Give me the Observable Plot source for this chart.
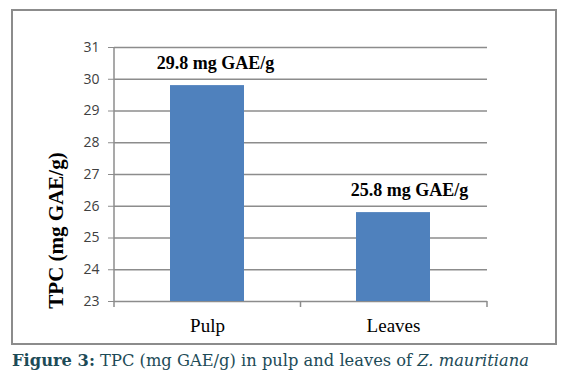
<!DOCTYPE html>
<html>
<head>
<meta charset="utf-8">
<script src="https://cdn.jsdelivr.net/npm/d3@7"></script>
<script src="https://cdn.jsdelivr.net/npm/@observablehq/plot@0.6"></script>
<style>
  html, body { margin: 0; padding: 0; background: #fff; }
  #wrap { position: relative; width: 572px; height: 377px; overflow: hidden; }
  #box { position: absolute; left: 11px; top: 9px; width: 542px; height: 332px; border: 2px solid #8c8c8c; }
  #chart { position: absolute; left: 0; top: 0; }
  #caption { position: absolute; left: 12px; top: 351px; font-family: "DejaVu Serif", serif; font-size: 16.3px; color: #1d4b57; white-space: nowrap; }
  #caption b { font-weight: bold; }
</style>
</head>
<body>
<div id="wrap">
  <div id="box"></div>
  <div id="chart"></div>
  <div id="caption"><b>Figure 3:</b> TPC (mg GAE/g) in pulp and leaves of <i>Z. mauritiana</i></div>
</div>
<script>
const categories = ["Pulp", "Leaves"];
const values = [29.8, 25.8];
const valueLabels = ["29.8 mg GAE/g", "25.8 mg GAE/g"];
const yTicks = [23, 24, 25, 26, 27, 28, 29, 30, 31];
const yTitle = "TPC (mg GAE/g)";

const data = categories.map((c, i) => ({cat: c, value: values[i], label: valueLabels[i]}));
const gray = "#8c8c8c";

function boundaryTicks(index, scales, values, dims) {
  const {width, height, marginLeft, marginRight, marginTop, marginBottom} = dims;
  const g = d3.create("svg:g").attr("stroke", gray).attr("stroke-width", 1.5);
  const n = categories.length;
  const w = (width - marginLeft - marginRight) / n;
  const yb = height - marginBottom;
  g.append("line").attr("x1", marginLeft).attr("x2", marginLeft).attr("y1", marginTop).attr("y2", yb);
  for (let i = 0; i <= n; i++) {
    const x = marginLeft + i * w;
    g.append("line").attr("x1", x).attr("x2", x).attr("y1", yb).attr("y2", yb + 6);
  }
  return g.node();
}

const chart = Plot.plot({
  width: 572,
  height: 345,
  marginLeft: 114,
  marginRight: 85,
  marginTop: 47,
  marginBottom: 44,
  x: {domain: categories, paddingInner: 0.6, paddingOuter: 0.3, label: null},
  y: {domain: [yTicks[0], yTicks[yTicks.length - 1]], label: null},
  style: {background: "transparent"},
  marks: [
    Plot.gridY(yTicks, {stroke: gray, strokeOpacity: 1, strokeWidth: 1.5}),
    Plot.barY(data, {x: "cat", y1: yTicks[0], y2: "value", fill: "#4f81bd"}),
    Plot.axisY(yTicks, {tickSize: 6, tickPadding: 9, stroke: gray, fill: "#404040", fontSize: 14, fontFamily: "Open Sans, sans-serif", tickFormat: d => String(d)}),
    Plot.axisX({tickSize: 0, tickPadding: 17, fill: "#000", fontSize: 19, fontFamily: "Liberation Serif, serif"}),
    boundaryTicks,
    Plot.text(data.filter(d => d.cat === "Pulp"), {x: "cat", y: "value", text: "label", dx: 8, dy: -22, fontSize: 18, fontWeight: "bold", fontFamily: "Liberation Serif, serif", fill: "#000"}),
    Plot.text(data.filter(d => d.cat === "Leaves"), {x: "cat", y: "value", text: "label", dx: 16, dy: -22, fontSize: 18, fontWeight: "bold", fontFamily: "Liberation Serif, serif", fill: "#000"}),
    Plot.text([yTitle], {frameAnchor: "left", textAnchor: "middle", rotate: -90, text: d => d, dx: -58, dy: 56, fontSize: 21, fontWeight: "bold", fontFamily: "Liberation Serif, serif", fill: "#000"})
  ]
});
document.getElementById("chart").appendChild(chart);
</script>
</body>
</html>
